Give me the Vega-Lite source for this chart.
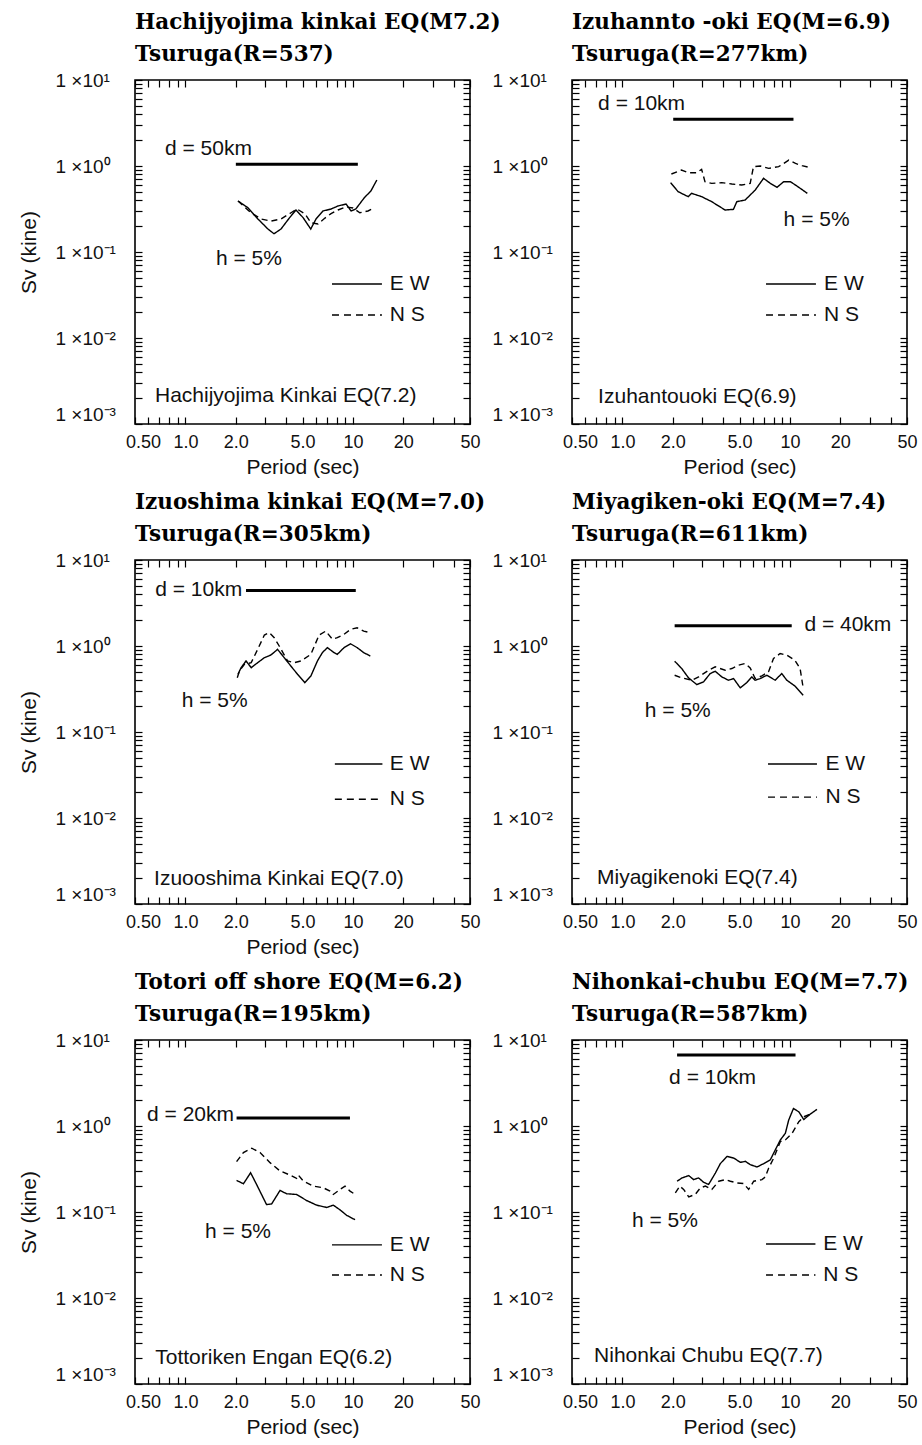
{
"$schema":"https://vega.github.io/schema/vega-lite/v6.json",
"padding":{"left":17,"top":10,"right":5,"bottom":5},
"background":"white",
"columns":2,
"bounds":"flush",
"spacing":{"row":136,"column":102},
"data":{"values":[
{"panel":1,"comp":"E W","period":2.06,"sv":0.392},{"panel":1,"comp":"E W","period":2.36,"sv":0.327},{"panel":1,"comp":"E W","period":2.71,"sv":0.242},{"panel":1,"comp":"E W","period":3.11,"sv":0.185},{"panel":1,"comp":"E W","period":3.38,"sv":0.163},{"panel":1,"comp":"E W","period":3.72,"sv":0.185},{"panel":1,"comp":"E W","period":4.19,"sv":0.251},{"panel":1,"comp":"E W","period":4.57,"sv":0.308},{"panel":1,"comp":"E W","period":5.04,"sv":0.251},{"panel":1,"comp":"E W","period":5.6,"sv":0.185},{"panel":1,"comp":"E W","period":6.02,"sv":0.242},{"panel":1,"comp":"E W","period":6.63,"sv":0.3},{"panel":1,"comp":"E W","period":7.4,"sv":0.316},{"panel":1,"comp":"E W","period":8.15,"sv":0.343},{"panel":1,"comp":"E W","period":9.1,"sv":0.361},{"panel":1,"comp":"E W","period":9.75,"sv":0.3},{"panel":1,"comp":"E W","period":10.4,"sv":0.316},{"panel":1,"comp":"E W","period":11.7,"sv":0.428},{"panel":1,"comp":"E W","period":12.8,"sv":0.512},{"panel":1,"comp":"E W","period":13.9,"sv":0.688},
{"panel":1,"comp":"N S","period":2.06,"sv":0.392},{"panel":1,"comp":"N S","period":2.46,"sv":0.286},{"panel":1,"comp":"N S","period":2.83,"sv":0.242},{"panel":1,"comp":"N S","period":3.24,"sv":0.229},{"panel":1,"comp":"N S","period":3.72,"sv":0.242},{"panel":1,"comp":"N S","period":4.27,"sv":0.286},{"panel":1,"comp":"N S","period":4.64,"sv":0.316},{"panel":1,"comp":"N S","period":5.18,"sv":0.277},{"panel":1,"comp":"N S","period":5.62,"sv":0.219},{"panel":1,"comp":"N S","period":6.19,"sv":0.212},{"panel":1,"comp":"N S","period":6.81,"sv":0.248},{"panel":1,"comp":"N S","period":7.4,"sv":0.279},{"panel":1,"comp":"N S","period":8.15,"sv":0.308},{"panel":1,"comp":"N S","period":9.1,"sv":0.334},{"panel":1,"comp":"N S","period":10.0,"sv":0.325},{"panel":1,"comp":"N S","period":11.0,"sv":0.286},{"panel":1,"comp":"N S","period":12.3,"sv":0.3},{"panel":1,"comp":"N S","period":13.5,"sv":0.327},
{"panel":1,"comp":"d","period":2.0,"sv":1.05},{"panel":1,"comp":"d","period":10.7,"sv":1.05},
{"panel":2,"comp":"E W","period":1.94,"sv":0.64},{"panel":2,"comp":"E W","period":2.15,"sv":0.503},{"panel":2,"comp":"E W","period":2.47,"sv":0.44},{"panel":2,"comp":"E W","period":2.59,"sv":0.481},{"panel":2,"comp":"E W","period":2.97,"sv":0.44},{"panel":2,"comp":"E W","period":3.41,"sv":0.385},{"panel":2,"comp":"E W","period":4.1,"sv":0.308},{"panel":2,"comp":"E W","period":4.6,"sv":0.313},{"panel":2,"comp":"E W","period":4.82,"sv":0.385},{"panel":2,"comp":"E W","period":5.4,"sv":0.402},{"panel":2,"comp":"E W","period":6.21,"sv":0.526},{"panel":2,"comp":"E W","period":6.96,"sv":0.719},{"panel":2,"comp":"E W","period":7.64,"sv":0.628},{"panel":2,"comp":"E W","period":8.37,"sv":0.565},{"panel":2,"comp":"E W","period":9.18,"sv":0.657},{"panel":2,"comp":"E W","period":10.07,"sv":0.657},{"panel":2,"comp":"E W","period":11.3,"sv":0.565},{"panel":2,"comp":"E W","period":12.7,"sv":0.481},
{"panel":2,"comp":"N S","period":1.96,"sv":0.807},{"panel":2,"comp":"N S","period":2.25,"sv":0.898},{"panel":2,"comp":"N S","period":2.47,"sv":0.836},{"panel":2,"comp":"N S","period":2.77,"sv":0.836},{"panel":2,"comp":"N S","period":2.97,"sv":0.915},{"panel":2,"comp":"N S","period":3.11,"sv":0.657},{"panel":2,"comp":"N S","period":3.41,"sv":0.628},{"panel":2,"comp":"N S","period":3.92,"sv":0.64},{"panel":2,"comp":"N S","period":4.5,"sv":0.618},{"panel":2,"comp":"N S","period":5.16,"sv":0.601},{"panel":2,"comp":"N S","period":5.79,"sv":0.628},{"panel":2,"comp":"N S","period":6.06,"sv":0.982},{"panel":2,"comp":"N S","period":6.65,"sv":1.0},{"panel":2,"comp":"N S","period":7.46,"sv":0.939},{"panel":2,"comp":"N S","period":8.57,"sv":0.982},{"panel":2,"comp":"N S","period":9.84,"sv":1.17},{"panel":2,"comp":"N S","period":10.8,"sv":1.07},{"panel":2,"comp":"N S","period":11.8,"sv":1.01},{"panel":2,"comp":"N S","period":13.0,"sv":0.964},
{"panel":2,"comp":"d","period":2.01,"sv":3.5},{"panel":2,"comp":"d","period":10.5,"sv":3.5},
{"panel":3,"comp":"E W","period":2.06,"sv":0.469},{"panel":3,"comp":"E W","period":2.15,"sv":0.56},{"panel":3,"comp":"E W","period":2.3,"sv":0.67},{"panel":3,"comp":"E W","period":2.47,"sv":0.56},{"panel":3,"comp":"E W","period":2.7,"sv":0.64},{"panel":3,"comp":"E W","period":2.96,"sv":0.731},{"panel":3,"comp":"E W","period":3.24,"sv":0.786},{"panel":3,"comp":"E W","period":3.55,"sv":0.914},{"panel":3,"comp":"E W","period":3.89,"sv":0.731},{"panel":3,"comp":"E W","period":4.26,"sv":0.585},{"panel":3,"comp":"E W","period":4.67,"sv":0.469},{"panel":3,"comp":"E W","period":5.16,"sv":0.375},{"panel":3,"comp":"E W","period":5.61,"sv":0.448},{"panel":3,"comp":"E W","period":6.14,"sv":0.67},{"panel":3,"comp":"E W","period":6.57,"sv":0.837},{"panel":3,"comp":"E W","period":7.04,"sv":0.957},{"panel":3,"comp":"E W","period":7.71,"sv":0.837},{"panel":3,"comp":"E W","period":8.07,"sv":0.8},{"panel":3,"comp":"E W","period":8.85,"sv":0.957},{"panel":3,"comp":"E W","period":9.69,"sv":1.06},{"panel":3,"comp":"E W","period":10.6,"sv":0.957},{"panel":3,"comp":"E W","period":11.6,"sv":0.837},{"panel":3,"comp":"E W","period":12.7,"sv":0.765},
{"panel":3,"comp":"N S","period":2.04,"sv":0.428},{"panel":3,"comp":"N S","period":2.1,"sv":0.512},{"panel":3,"comp":"N S","period":2.25,"sv":0.612},{"panel":3,"comp":"N S","period":2.47,"sv":0.64},{"panel":3,"comp":"N S","period":2.7,"sv":0.914},{"panel":3,"comp":"N S","period":2.96,"sv":1.34},{"panel":3,"comp":"N S","period":3.17,"sv":1.43},{"panel":3,"comp":"N S","period":3.39,"sv":1.25},{"panel":3,"comp":"N S","period":3.63,"sv":1.0},{"panel":3,"comp":"N S","period":4.07,"sv":0.67},{"panel":3,"comp":"N S","period":4.46,"sv":0.64},{"panel":3,"comp":"N S","period":4.89,"sv":0.67},{"panel":3,"comp":"N S","period":5.61,"sv":0.8},{"panel":3,"comp":"N S","period":6.28,"sv":1.34},{"panel":3,"comp":"N S","period":6.88,"sv":1.49},{"panel":3,"comp":"N S","period":7.54,"sv":1.2},{"panel":3,"comp":"N S","period":8.07,"sv":1.25},{"panel":3,"comp":"N S","period":8.85,"sv":1.37},{"panel":3,"comp":"N S","period":9.69,"sv":1.56},{"panel":3,"comp":"N S","period":10.6,"sv":1.63},{"panel":3,"comp":"N S","period":11.6,"sv":1.49},{"panel":3,"comp":"N S","period":12.7,"sv":1.43},
{"panel":3,"comp":"d","period":2.3,"sv":4.43},{"panel":3,"comp":"d","period":10.4,"sv":4.43},
{"panel":4,"comp":"E W","period":2.05,"sv":0.666},{"panel":4,"comp":"E W","period":2.26,"sv":0.547},{"panel":4,"comp":"E W","period":2.48,"sv":0.426},{"panel":4,"comp":"E W","period":2.78,"sv":0.356},{"panel":4,"comp":"E W","period":3.05,"sv":0.383},{"panel":4,"comp":"E W","period":3.34,"sv":0.478},{"panel":4,"comp":"E W","period":3.58,"sv":0.509},{"panel":4,"comp":"E W","period":3.92,"sv":0.437},{"panel":4,"comp":"E W","period":4.3,"sv":0.4},{"panel":4,"comp":"E W","period":4.61,"sv":0.418},{"panel":4,"comp":"E W","period":5.05,"sv":0.326},{"panel":4,"comp":"E W","period":5.53,"sv":0.376},{"panel":4,"comp":"E W","period":5.92,"sv":0.437},{"panel":4,"comp":"E W","period":6.2,"sv":0.4},{"panel":4,"comp":"E W","period":6.64,"sv":0.418},{"panel":4,"comp":"E W","period":7.28,"sv":0.457},{"panel":4,"comp":"E W","period":8.16,"sv":0.4},{"panel":4,"comp":"E W","period":8.94,"sv":0.478},{"panel":4,"comp":"E W","period":9.58,"sv":0.4},{"panel":4,"comp":"E W","period":10.7,"sv":0.343},{"panel":4,"comp":"E W","period":12.0,"sv":0.267},
{"panel":4,"comp":"N S","period":2.05,"sv":0.457},{"panel":4,"comp":"N S","period":2.26,"sv":0.426},{"panel":4,"comp":"N S","period":2.6,"sv":0.4},{"panel":4,"comp":"N S","period":2.85,"sv":0.437},{"panel":4,"comp":"N S","period":3.27,"sv":0.523},{"panel":4,"comp":"N S","period":3.58,"sv":0.572},{"panel":4,"comp":"N S","period":4.11,"sv":0.523},{"panel":4,"comp":"N S","period":4.5,"sv":0.547},{"panel":4,"comp":"N S","period":4.93,"sv":0.598},{"panel":4,"comp":"N S","period":5.4,"sv":0.625},{"panel":4,"comp":"N S","period":5.79,"sv":0.557},{"panel":4,"comp":"N S","period":6.2,"sv":0.418},{"panel":4,"comp":"N S","period":6.8,"sv":0.449},{"panel":4,"comp":"N S","period":7.45,"sv":0.5},{"panel":4,"comp":"N S","period":7.98,"sv":0.715},{"panel":4,"comp":"N S","period":8.74,"sv":0.818},{"panel":4,"comp":"N S","period":9.58,"sv":0.782},{"panel":4,"comp":"N S","period":10.7,"sv":0.684},{"panel":4,"comp":"N S","period":11.5,"sv":0.547},{"panel":4,"comp":"N S","period":12.0,"sv":0.326},
{"panel":4,"comp":"d","period":2.05,"sv":1.72},{"panel":4,"comp":"d","period":10.25,"sv":1.72},
{"panel":5,"comp":"E W","period":2.02,"sv":0.233},{"panel":5,"comp":"E W","period":2.22,"sv":0.213},{"panel":5,"comp":"E W","period":2.45,"sv":0.286},{"panel":5,"comp":"E W","period":2.66,"sv":0.209},{"panel":5,"comp":"E W","period":3.05,"sv":0.122},{"panel":5,"comp":"E W","period":3.27,"sv":0.124},{"panel":5,"comp":"E W","period":3.67,"sv":0.178},{"panel":5,"comp":"E W","period":4.02,"sv":0.163},{"panel":5,"comp":"E W","period":4.61,"sv":0.16},{"panel":5,"comp":"E W","period":5.29,"sv":0.136},{"panel":5,"comp":"E W","period":6.08,"sv":0.12},{"panel":5,"comp":"E W","period":6.97,"sv":0.113},{"panel":5,"comp":"E W","period":7.64,"sv":0.12},{"panel":5,"comp":"E W","period":8.37,"sv":0.106},{"panel":5,"comp":"E W","period":9.18,"sv":0.0914},{"panel":5,"comp":"E W","period":10.3,"sv":0.0813},
{"panel":5,"comp":"N S","period":2.02,"sv":0.385},{"panel":5,"comp":"N S","period":2.22,"sv":0.491},{"panel":5,"comp":"N S","period":2.49,"sv":0.552},{"panel":5,"comp":"N S","period":2.79,"sv":0.491},{"panel":5,"comp":"N S","period":3.2,"sv":0.375},{"panel":5,"comp":"N S","period":3.67,"sv":0.3},{"panel":5,"comp":"N S","period":4.21,"sv":0.269},{"panel":5,"comp":"N S","period":4.61,"sv":0.246},{"panel":5,"comp":"N S","period":4.72,"sv":0.269},{"panel":5,"comp":"N S","period":5.06,"sv":0.229},{"panel":5,"comp":"N S","period":5.8,"sv":0.2},{"panel":5,"comp":"N S","period":6.66,"sv":0.191},{"panel":5,"comp":"N S","period":7.3,"sv":0.175},{"panel":5,"comp":"N S","period":7.64,"sv":0.16},{"panel":5,"comp":"N S","period":8.37,"sv":0.183},{"panel":5,"comp":"N S","period":8.97,"sv":0.2},{"panel":5,"comp":"N S","period":9.61,"sv":0.175},{"panel":5,"comp":"N S","period":10.3,"sv":0.16},
{"panel":5,"comp":"d","period":2.02,"sv":1.24},{"panel":5,"comp":"d","period":9.6,"sv":1.24},
{"panel":6,"comp":"E W","period":2.12,"sv":0.228},{"panel":6,"comp":"E W","period":2.27,"sv":0.249},{"panel":6,"comp":"E W","period":2.49,"sv":0.265},{"panel":6,"comp":"E W","period":2.66,"sv":0.238},{"panel":6,"comp":"E W","period":2.85,"sv":0.249},{"panel":6,"comp":"E W","period":3.05,"sv":0.222},{"panel":6,"comp":"E W","period":3.27,"sv":0.209},{"panel":6,"comp":"E W","period":3.59,"sv":0.284},{"panel":6,"comp":"E W","period":3.84,"sv":0.365},{"panel":6,"comp":"E W","period":4.21,"sv":0.443},{"panel":6,"comp":"E W","period":4.62,"sv":0.424},{"panel":6,"comp":"E W","period":5.06,"sv":0.378},{"panel":6,"comp":"E W","period":5.42,"sv":0.388},{"panel":6,"comp":"E W","period":5.8,"sv":0.355},{"panel":6,"comp":"E W","period":6.36,"sv":0.334},{"panel":6,"comp":"E W","period":6.97,"sv":0.365},{"panel":6,"comp":"E W","period":7.64,"sv":0.405},{"panel":6,"comp":"E W","period":8.18,"sv":0.528},{"panel":6,"comp":"E W","period":8.77,"sv":0.689},{"panel":6,"comp":"E W","period":9.39,"sv":0.822},{"panel":6,"comp":"E W","period":9.83,"sv":1.17},{"panel":6,"comp":"E W","period":10.5,"sv":1.6},{"panel":6,"comp":"E W","period":11.3,"sv":1.46},{"panel":6,"comp":"E W","period":12.1,"sv":1.19},{"panel":6,"comp":"E W","period":13.2,"sv":1.37},{"panel":6,"comp":"E W","period":14.5,"sv":1.56},
{"panel":6,"comp":"N S","period":2.07,"sv":0.167},{"panel":6,"comp":"N S","period":2.2,"sv":0.2},{"panel":6,"comp":"N S","period":2.32,"sv":0.183},{"panel":6,"comp":"N S","period":2.49,"sv":0.15},{"panel":6,"comp":"N S","period":2.72,"sv":0.16},{"panel":6,"comp":"N S","period":2.92,"sv":0.191},{"panel":6,"comp":"N S","period":3.13,"sv":0.2},{"panel":6,"comp":"N S","period":3.42,"sv":0.183},{"panel":6,"comp":"N S","period":3.76,"sv":0.228},{"panel":6,"comp":"N S","period":4.12,"sv":0.238},{"panel":6,"comp":"N S","period":4.41,"sv":0.228},{"panel":6,"comp":"N S","period":4.83,"sv":0.218},{"panel":6,"comp":"N S","period":5.29,"sv":0.214},{"panel":6,"comp":"N S","period":5.67,"sv":0.183},{"panel":6,"comp":"N S","period":6.08,"sv":0.228},{"panel":6,"comp":"N S","period":6.81,"sv":0.238},{"panel":6,"comp":"N S","period":7.13,"sv":0.256},{"panel":6,"comp":"N S","period":7.47,"sv":0.325},{"panel":6,"comp":"N S","period":8.0,"sv":0.424},{"panel":6,"comp":"N S","period":8.77,"sv":0.659},{"panel":6,"comp":"N S","period":9.39,"sv":0.689},{"panel":6,"comp":"N S","period":10.3,"sv":0.822},{"panel":6,"comp":"N S","period":11.3,"sv":1.12},{"panel":6,"comp":"N S","period":12.1,"sv":1.28},{"panel":6,"comp":"N S","period":13.2,"sv":1.37},
{"panel":6,"comp":"d","period":2.12,"sv":6.7},{"panel":6,"comp":"d","period":10.8,"sv":6.7}
]},
"concat":[
{"width":335,"height":344,"title":{"text":["Hachijyojima kinkai EQ(M7.2)","Tsuruga(R=537)"]},
 "resolve":{"axis":{"x":"independent","y":"independent"}},
 "layer":[
 {"transform":[{"filter":"datum.panel==1 && datum.comp!='d'"}],"mark":{"type":"line","strokeWidth":1.4},
  "encoding":{"x":{"field":"period","type":"quantitative","scale":{"type":"log","domain":[0.5,50],"nice":false},"axis":{"orient":"bottom","values":[0.5,0.6,0.7,0.8,0.9,1,2,3,4,5,6,7,8,9,10,20,30,40,50],"labelExpr":"datum.value==0.5?'0.50':datum.value==1?'1.0':datum.value==2?'2.0':datum.value==5?'5.0':datum.value==10?'10':datum.value==20?'20':datum.value==50?'50':''","labelOffset":{"condition":{"test":"datum.value==0.5","value":8},"value":0},"tickSize":-7,"labelPadding":16,"title":"Period (sec)","titlePadding":5}},
  "y":{"field":"sv","type":"quantitative","scale":{"type":"log","domain":[0.001,10],"nice":false},"axis":{"orient":"left","values":[0.001,0.002,0.003,0.004,0.005,0.006,0.007,0.008,0.009,0.01,0.02,0.03,0.04,0.05,0.06,0.07,0.08,0.09,0.1,0.2,0.3,0.4,0.5,0.6,0.7,0.8,0.9,1,2,3,4,5,6,7,8,9,10],"labelExpr":"datum.value==10?'1 ×10¹':datum.value==1?'1 ×10⁰':datum.value==0.1?'1 ×10⁻¹':datum.value==0.01?'1 ×10⁻²':datum.value==0.001?'1 ×10⁻³':''","labelOffset":{"condition":{"test":"datum.value==0.001","value":-10},"value":0},"tickSize":-7,"labelAlign":"left","labelPadding":87,"title":"Sv (kine)","titlePadding":16}},
  "strokeDash":{"field":"comp","type":"nominal","scale":{"domain":["E W","N S"],"range":[[1,0],[6,4]]},"legend":null}}},
 {"transform":[{"filter":"datum.panel==1 && datum.comp=='d'"}],"mark":{"type":"line","strokeWidth":3},
  "encoding":{"x":{"field":"period","type":"quantitative","axis":{"orient":"top","values":[0.5,0.6,0.7,0.8,0.9,1,2,3,4,5,6,7,8,9,10,20,30,40,50],"labels":false,"tickSize":-7,"title":null}},
  "y":{"field":"sv","type":"quantitative","axis":{"orient":"right","values":[0.001,0.002,0.003,0.004,0.005,0.006,0.007,0.008,0.009,0.01,0.02,0.03,0.04,0.05,0.06,0.07,0.08,0.09,0.1,0.2,0.3,0.4,0.5,0.6,0.7,0.8,0.9,1,2,3,4,5,6,7,8,9,10],"labels":false,"tickSize":-7,"title":null}}}},
 {"data":{"values":[{}]},"mark":{"type":"rule","strokeWidth":1.4,"color":"#000"},"encoding":{"x":{"datum":7.5,"type":"quantitative","axis":null},"x2":{"datum":14.9},"y":{"datum":0.0425,"type":"quantitative","axis":null}}},
 {"data":{"values":[{}]},"mark":{"type":"rule","strokeWidth":1.4,"color":"#000","strokeDash":[7,5]},"encoding":{"x":{"datum":7.5,"type":"quantitative","axis":null},"x2":{"datum":14.9},"y":{"datum":0.0185,"type":"quantitative","axis":null}}},
 {"data":{"values":[{}]},"mark":{"type":"text","align":"left","baseline":"middle"},"encoding":{"x":{"datum":16.6,"type":"quantitative","axis":null},"y":{"datum":0.0425,"type":"quantitative","axis":null},"text":{"value":"E W"}}},
 {"data":{"values":[{}]},"mark":{"type":"text","align":"left","baseline":"middle"},"encoding":{"x":{"datum":16.6,"type":"quantitative","axis":null},"y":{"datum":0.0185,"type":"quantitative","axis":null},"text":{"value":"N S"}}},
 {"data":{"values":[{}]},"mark":{"type":"text","align":"left","baseline":"middle"},"encoding":{"x":{"datum":0.755,"type":"quantitative","axis":null},"y":{"datum":1.58,"type":"quantitative","axis":null},"text":{"value":"d = 50km"}}},
 {"data":{"values":[{}]},"mark":{"type":"text","align":"left","baseline":"middle"},"encoding":{"x":{"datum":1.52,"type":"quantitative","axis":null},"y":{"datum":0.083,"type":"quantitative","axis":null},"text":{"value":"h = 5%"}}},
 {"data":{"values":[{}]},"mark":{"type":"text","align":"left","baseline":"middle"},"encoding":{"x":{"datum":0.658,"type":"quantitative","axis":null},"y":{"datum":0.00212,"type":"quantitative","axis":null},"text":{"value":"Hachijyojima  Kinkai  EQ(7.2)"}}}
 ]},
{"width":335,"height":344,"title":{"text":["Izuhannto -oki EQ(M=6.9)","Tsuruga(R=277km)"]},
 "resolve":{"axis":{"x":"independent","y":"independent"}},
 "layer":[
 {"transform":[{"filter":"datum.panel==2 && datum.comp!='d'"}],"mark":{"type":"line","strokeWidth":1.4},
  "encoding":{"x":{"field":"period","type":"quantitative","scale":{"type":"log","domain":[0.5,50],"nice":false},"axis":{"orient":"bottom","values":[0.5,0.6,0.7,0.8,0.9,1,2,3,4,5,6,7,8,9,10,20,30,40,50],"labelExpr":"datum.value==0.5?'0.50':datum.value==1?'1.0':datum.value==2?'2.0':datum.value==5?'5.0':datum.value==10?'10':datum.value==20?'20':datum.value==50?'50':''","labelOffset":{"condition":{"test":"datum.value==0.5","value":8},"value":0},"tickSize":-7,"labelPadding":16,"title":"Period (sec)","titlePadding":5}},
  "y":{"field":"sv","type":"quantitative","scale":{"type":"log","domain":[0.001,10],"nice":false},"axis":{"orient":"left","values":[0.001,0.002,0.003,0.004,0.005,0.006,0.007,0.008,0.009,0.01,0.02,0.03,0.04,0.05,0.06,0.07,0.08,0.09,0.1,0.2,0.3,0.4,0.5,0.6,0.7,0.8,0.9,1,2,3,4,5,6,7,8,9,10],"labelExpr":"datum.value==10?'1 ×10¹':datum.value==1?'1 ×10⁰':datum.value==0.1?'1 ×10⁻¹':datum.value==0.01?'1 ×10⁻²':datum.value==0.001?'1 ×10⁻³':''","labelOffset":{"condition":{"test":"datum.value==0.001","value":-10},"value":0},"tickSize":-7,"labelAlign":"left","labelPadding":87,"title":null}},
  "strokeDash":{"field":"comp","type":"nominal","scale":{"domain":["E W","N S"],"range":[[1,0],[6,4]]},"legend":null}}},
 {"transform":[{"filter":"datum.panel==2 && datum.comp=='d'"}],"mark":{"type":"line","strokeWidth":3},
  "encoding":{"x":{"field":"period","type":"quantitative","axis":{"orient":"top","values":[0.5,0.6,0.7,0.8,0.9,1,2,3,4,5,6,7,8,9,10,20,30,40,50],"labels":false,"tickSize":-7,"title":null}},
  "y":{"field":"sv","type":"quantitative","axis":{"orient":"right","values":[0.001,0.002,0.003,0.004,0.005,0.006,0.007,0.008,0.009,0.01,0.02,0.03,0.04,0.05,0.06,0.07,0.08,0.09,0.1,0.2,0.3,0.4,0.5,0.6,0.7,0.8,0.9,1,2,3,4,5,6,7,8,9,10],"labels":false,"tickSize":-7,"title":null}}}},
 {"data":{"values":[{}]},"mark":{"type":"rule","strokeWidth":1.4,"color":"#000"},"encoding":{"x":{"datum":7.2,"type":"quantitative","axis":null},"x2":{"datum":14.3},"y":{"datum":0.0425,"type":"quantitative","axis":null}}},
 {"data":{"values":[{}]},"mark":{"type":"rule","strokeWidth":1.4,"color":"#000","strokeDash":[7,5]},"encoding":{"x":{"datum":7.2,"type":"quantitative","axis":null},"x2":{"datum":14.3},"y":{"datum":0.0185,"type":"quantitative","axis":null}}},
 {"data":{"values":[{}]},"mark":{"type":"text","align":"left","baseline":"middle"},"encoding":{"x":{"datum":16.0,"type":"quantitative","axis":null},"y":{"datum":0.0425,"type":"quantitative","axis":null},"text":{"value":"E W"}}},
 {"data":{"values":[{}]},"mark":{"type":"text","align":"left","baseline":"middle"},"encoding":{"x":{"datum":16.0,"type":"quantitative","axis":null},"y":{"datum":0.0185,"type":"quantitative","axis":null},"text":{"value":"N S"}}},
 {"data":{"values":[{}]},"mark":{"type":"text","align":"left","baseline":"middle"},"encoding":{"x":{"datum":0.716,"type":"quantitative","axis":null},"y":{"datum":5.26,"type":"quantitative","axis":null},"text":{"value":"d = 10km"}}},
 {"data":{"values":[{}]},"mark":{"type":"text","align":"left","baseline":"middle"},"encoding":{"x":{"datum":9.17,"type":"quantitative","axis":null},"y":{"datum":0.236,"type":"quantitative","axis":null},"text":{"value":"h = 5%"}}},
 {"data":{"values":[{}]},"mark":{"type":"text","align":"left","baseline":"middle"},"encoding":{"x":{"datum":0.716,"type":"quantitative","axis":null},"y":{"datum":0.00206,"type":"quantitative","axis":null},"text":{"value":"Izuhantouoki  EQ(6.9)"}}}
 ]},
{"width":335,"height":344,"title":{"text":["Izuoshima kinkai EQ(M=7.0)","Tsuruga(R=305km)"]},
 "resolve":{"axis":{"x":"independent","y":"independent"}},
 "layer":[
 {"transform":[{"filter":"datum.panel==3 && datum.comp!='d'"}],"mark":{"type":"line","strokeWidth":1.4},
  "encoding":{"x":{"field":"period","type":"quantitative","scale":{"type":"log","domain":[0.5,50],"nice":false},"axis":{"orient":"bottom","values":[0.5,0.6,0.7,0.8,0.9,1,2,3,4,5,6,7,8,9,10,20,30,40,50],"labelExpr":"datum.value==0.5?'0.50':datum.value==1?'1.0':datum.value==2?'2.0':datum.value==5?'5.0':datum.value==10?'10':datum.value==20?'20':datum.value==50?'50':''","labelOffset":{"condition":{"test":"datum.value==0.5","value":8},"value":0},"tickSize":-7,"labelPadding":16,"title":"Period (sec)","titlePadding":5}},
  "y":{"field":"sv","type":"quantitative","scale":{"type":"log","domain":[0.001,10],"nice":false},"axis":{"orient":"left","values":[0.001,0.002,0.003,0.004,0.005,0.006,0.007,0.008,0.009,0.01,0.02,0.03,0.04,0.05,0.06,0.07,0.08,0.09,0.1,0.2,0.3,0.4,0.5,0.6,0.7,0.8,0.9,1,2,3,4,5,6,7,8,9,10],"labelExpr":"datum.value==10?'1 ×10¹':datum.value==1?'1 ×10⁰':datum.value==0.1?'1 ×10⁻¹':datum.value==0.01?'1 ×10⁻²':datum.value==0.001?'1 ×10⁻³':''","labelOffset":{"condition":{"test":"datum.value==0.001","value":-10},"value":0},"tickSize":-7,"labelAlign":"left","labelPadding":87,"title":"Sv (kine)","titlePadding":16}},
  "strokeDash":{"field":"comp","type":"nominal","scale":{"domain":["E W","N S"],"range":[[1,0],[6,4]]},"legend":null}}},
 {"transform":[{"filter":"datum.panel==3 && datum.comp=='d'"}],"mark":{"type":"line","strokeWidth":3},
  "encoding":{"x":{"field":"period","type":"quantitative","axis":{"orient":"top","values":[0.5,0.6,0.7,0.8,0.9,1,2,3,4,5,6,7,8,9,10,20,30,40,50],"labels":false,"tickSize":-7,"title":null}},
  "y":{"field":"sv","type":"quantitative","axis":{"orient":"right","values":[0.001,0.002,0.003,0.004,0.005,0.006,0.007,0.008,0.009,0.01,0.02,0.03,0.04,0.05,0.06,0.07,0.08,0.09,0.1,0.2,0.3,0.4,0.5,0.6,0.7,0.8,0.9,1,2,3,4,5,6,7,8,9,10],"labels":false,"tickSize":-7,"title":null}}}},
 {"data":{"values":[{}]},"mark":{"type":"rule","strokeWidth":1.4,"color":"#000"},"encoding":{"x":{"datum":7.8,"type":"quantitative","axis":null},"x2":{"datum":15.0},"y":{"datum":0.0425,"type":"quantitative","axis":null}}},
 {"data":{"values":[{}]},"mark":{"type":"rule","strokeWidth":1.4,"color":"#000","strokeDash":[7,5]},"encoding":{"x":{"datum":7.8,"type":"quantitative","axis":null},"x2":{"datum":15.0},"y":{"datum":0.0165,"type":"quantitative","axis":null}}},
 {"data":{"values":[{}]},"mark":{"type":"text","align":"left","baseline":"middle"},"encoding":{"x":{"datum":16.6,"type":"quantitative","axis":null},"y":{"datum":0.0425,"type":"quantitative","axis":null},"text":{"value":"E W"}}},
 {"data":{"values":[{}]},"mark":{"type":"text","align":"left","baseline":"middle"},"encoding":{"x":{"datum":16.6,"type":"quantitative","axis":null},"y":{"datum":0.0165,"type":"quantitative","axis":null},"text":{"value":"N S"}}},
 {"data":{"values":[{}]},"mark":{"type":"text","align":"left","baseline":"middle"},"encoding":{"x":{"datum":0.66,"type":"quantitative","axis":null},"y":{"datum":4.48,"type":"quantitative","axis":null},"text":{"value":"d = 10km"}}},
 {"data":{"values":[{}]},"mark":{"type":"text","align":"left","baseline":"middle"},"encoding":{"x":{"datum":0.95,"type":"quantitative","axis":null},"y":{"datum":0.229,"type":"quantitative","axis":null},"text":{"value":"h = 5%"}}},
 {"data":{"values":[{}]},"mark":{"type":"text","align":"left","baseline":"middle"},"encoding":{"x":{"datum":0.65,"type":"quantitative","axis":null},"y":{"datum":0.00195,"type":"quantitative","axis":null},"text":{"value":"Izuooshima  Kinkai  EQ(7.0)"}}}
 ]},
{"width":335,"height":344,"title":{"text":["Miyagiken-oki EQ(M=7.4)","Tsuruga(R=611km)"]},
 "resolve":{"axis":{"x":"independent","y":"independent"}},
 "layer":[
 {"transform":[{"filter":"datum.panel==4 && datum.comp!='d'"}],"mark":{"type":"line","strokeWidth":1.4},
  "encoding":{"x":{"field":"period","type":"quantitative","scale":{"type":"log","domain":[0.5,50],"nice":false},"axis":{"orient":"bottom","values":[0.5,0.6,0.7,0.8,0.9,1,2,3,4,5,6,7,8,9,10,20,30,40,50],"labelExpr":"datum.value==0.5?'0.50':datum.value==1?'1.0':datum.value==2?'2.0':datum.value==5?'5.0':datum.value==10?'10':datum.value==20?'20':datum.value==50?'50':''","labelOffset":{"condition":{"test":"datum.value==0.5","value":8},"value":0},"tickSize":-7,"labelPadding":16,"title":null}},
  "y":{"field":"sv","type":"quantitative","scale":{"type":"log","domain":[0.001,10],"nice":false},"axis":{"orient":"left","values":[0.001,0.002,0.003,0.004,0.005,0.006,0.007,0.008,0.009,0.01,0.02,0.03,0.04,0.05,0.06,0.07,0.08,0.09,0.1,0.2,0.3,0.4,0.5,0.6,0.7,0.8,0.9,1,2,3,4,5,6,7,8,9,10],"labelExpr":"datum.value==10?'1 ×10¹':datum.value==1?'1 ×10⁰':datum.value==0.1?'1 ×10⁻¹':datum.value==0.01?'1 ×10⁻²':datum.value==0.001?'1 ×10⁻³':''","labelOffset":{"condition":{"test":"datum.value==0.001","value":-10},"value":0},"tickSize":-7,"labelAlign":"left","labelPadding":87,"title":null}},
  "strokeDash":{"field":"comp","type":"nominal","scale":{"domain":["E W","N S"],"range":[[1,0],[6,4]]},"legend":null}}},
 {"transform":[{"filter":"datum.panel==4 && datum.comp=='d'"}],"mark":{"type":"line","strokeWidth":3},
  "encoding":{"x":{"field":"period","type":"quantitative","axis":{"orient":"top","values":[0.5,0.6,0.7,0.8,0.9,1,2,3,4,5,6,7,8,9,10,20,30,40,50],"labels":false,"tickSize":-7,"title":null}},
  "y":{"field":"sv","type":"quantitative","axis":{"orient":"right","values":[0.001,0.002,0.003,0.004,0.005,0.006,0.007,0.008,0.009,0.01,0.02,0.03,0.04,0.05,0.06,0.07,0.08,0.09,0.1,0.2,0.3,0.4,0.5,0.6,0.7,0.8,0.9,1,2,3,4,5,6,7,8,9,10],"labels":false,"tickSize":-7,"title":null}}}},
 {"data":{"values":[{}]},"mark":{"type":"rule","strokeWidth":1.4,"color":"#000"},"encoding":{"x":{"datum":7.4,"type":"quantitative","axis":null},"x2":{"datum":14.5},"y":{"datum":0.0425,"type":"quantitative","axis":null}}},
 {"data":{"values":[{}]},"mark":{"type":"rule","strokeWidth":1.4,"color":"#000","strokeDash":[7,5]},"encoding":{"x":{"datum":7.4,"type":"quantitative","axis":null},"x2":{"datum":14.5},"y":{"datum":0.0175,"type":"quantitative","axis":null}}},
 {"data":{"values":[{}]},"mark":{"type":"text","align":"left","baseline":"middle"},"encoding":{"x":{"datum":16.3,"type":"quantitative","axis":null},"y":{"datum":0.0425,"type":"quantitative","axis":null},"text":{"value":"E W"}}},
 {"data":{"values":[{}]},"mark":{"type":"text","align":"left","baseline":"middle"},"encoding":{"x":{"datum":16.3,"type":"quantitative","axis":null},"y":{"datum":0.0175,"type":"quantitative","axis":null},"text":{"value":"N S"}}},
 {"data":{"values":[{}]},"mark":{"type":"text","align":"left","baseline":"middle"},"encoding":{"x":{"datum":12.2,"type":"quantitative","axis":null},"y":{"datum":1.75,"type":"quantitative","axis":null},"text":{"value":"d = 40km"}}},
 {"data":{"values":[{}]},"mark":{"type":"text","align":"left","baseline":"middle"},"encoding":{"x":{"datum":1.36,"type":"quantitative","axis":null},"y":{"datum":0.175,"type":"quantitative","axis":null},"text":{"value":"h = 5%"}}},
 {"data":{"values":[{}]},"mark":{"type":"text","align":"left","baseline":"middle"},"encoding":{"x":{"datum":0.705,"type":"quantitative","axis":null},"y":{"datum":0.002,"type":"quantitative","axis":null},"text":{"value":"Miyagikenoki  EQ(7.4)"}}}
 ]},
{"width":335,"height":344,"title":{"text":["Totori off shore EQ(M=6.2)","Tsuruga(R=195km)"]},
 "resolve":{"axis":{"x":"independent","y":"independent"}},
 "layer":[
 {"transform":[{"filter":"datum.panel==5 && datum.comp!='d'"}],"mark":{"type":"line","strokeWidth":1.4},
  "encoding":{"x":{"field":"period","type":"quantitative","scale":{"type":"log","domain":[0.5,50],"nice":false},"axis":{"orient":"bottom","values":[0.5,0.6,0.7,0.8,0.9,1,2,3,4,5,6,7,8,9,10,20,30,40,50],"labelExpr":"datum.value==0.5?'0.50':datum.value==1?'1.0':datum.value==2?'2.0':datum.value==5?'5.0':datum.value==10?'10':datum.value==20?'20':datum.value==50?'50':''","labelOffset":{"condition":{"test":"datum.value==0.5","value":8},"value":0},"tickSize":-7,"labelPadding":16,"title":"Period (sec)","titlePadding":5}},
  "y":{"field":"sv","type":"quantitative","scale":{"type":"log","domain":[0.001,10],"nice":false},"axis":{"orient":"left","values":[0.001,0.002,0.003,0.004,0.005,0.006,0.007,0.008,0.009,0.01,0.02,0.03,0.04,0.05,0.06,0.07,0.08,0.09,0.1,0.2,0.3,0.4,0.5,0.6,0.7,0.8,0.9,1,2,3,4,5,6,7,8,9,10],"labelExpr":"datum.value==10?'1 ×10¹':datum.value==1?'1 ×10⁰':datum.value==0.1?'1 ×10⁻¹':datum.value==0.01?'1 ×10⁻²':datum.value==0.001?'1 ×10⁻³':''","labelOffset":{"condition":{"test":"datum.value==0.001","value":-10},"value":0},"tickSize":-7,"labelAlign":"left","labelPadding":87,"title":"Sv (kine)","titlePadding":16}},
  "strokeDash":{"field":"comp","type":"nominal","scale":{"domain":["E W","N S"],"range":[[1,0],[6,4]]},"legend":null}}},
 {"transform":[{"filter":"datum.panel==5 && datum.comp=='d'"}],"mark":{"type":"line","strokeWidth":3},
  "encoding":{"x":{"field":"period","type":"quantitative","axis":{"orient":"top","values":[0.5,0.6,0.7,0.8,0.9,1,2,3,4,5,6,7,8,9,10,20,30,40,50],"labels":false,"tickSize":-7,"title":null}},
  "y":{"field":"sv","type":"quantitative","axis":{"orient":"right","values":[0.001,0.002,0.003,0.004,0.005,0.006,0.007,0.008,0.009,0.01,0.02,0.03,0.04,0.05,0.06,0.07,0.08,0.09,0.1,0.2,0.3,0.4,0.5,0.6,0.7,0.8,0.9,1,2,3,4,5,6,7,8,9,10],"labels":false,"tickSize":-7,"title":null}}}},
 {"data":{"values":[{}]},"mark":{"type":"rule","strokeWidth":1.4,"color":"#000"},"encoding":{"x":{"datum":7.5,"type":"quantitative","axis":null},"x2":{"datum":14.9},"y":{"datum":0.0415,"type":"quantitative","axis":null}}},
 {"data":{"values":[{}]},"mark":{"type":"rule","strokeWidth":1.4,"color":"#000","strokeDash":[7,5]},"encoding":{"x":{"datum":7.5,"type":"quantitative","axis":null},"x2":{"datum":14.9},"y":{"datum":0.0185,"type":"quantitative","axis":null}}},
 {"data":{"values":[{}]},"mark":{"type":"text","align":"left","baseline":"middle"},"encoding":{"x":{"datum":16.6,"type":"quantitative","axis":null},"y":{"datum":0.0415,"type":"quantitative","axis":null},"text":{"value":"E W"}}},
 {"data":{"values":[{}]},"mark":{"type":"text","align":"left","baseline":"middle"},"encoding":{"x":{"datum":16.6,"type":"quantitative","axis":null},"y":{"datum":0.0185,"type":"quantitative","axis":null},"text":{"value":"N S"}}},
 {"data":{"values":[{}]},"mark":{"type":"text","align":"left","baseline":"middle"},"encoding":{"x":{"datum":0.59,"type":"quantitative","axis":null},"y":{"datum":1.34,"type":"quantitative","axis":null},"text":{"value":"d = 20km"}}},
 {"data":{"values":[{}]},"mark":{"type":"text","align":"left","baseline":"middle"},"encoding":{"x":{"datum":1.31,"type":"quantitative","axis":null},"y":{"datum":0.059,"type":"quantitative","axis":null},"text":{"value":"h = 5%"}}},
 {"data":{"values":[{}]},"mark":{"type":"text","align":"left","baseline":"middle"},"encoding":{"x":{"datum":0.66,"type":"quantitative","axis":null},"y":{"datum":0.002,"type":"quantitative","axis":null},"text":{"value":"Tottoriken  Engan  EQ(6.2)"}}}
 ]},
{"width":335,"height":344,"title":{"text":["Nihonkai-chubu EQ(M=7.7)","Tsuruga(R=587km)"]},
 "resolve":{"axis":{"x":"independent","y":"independent"}},
 "layer":[
 {"transform":[{"filter":"datum.panel==6 && datum.comp!='d'"}],"mark":{"type":"line","strokeWidth":1.4},
  "encoding":{"x":{"field":"period","type":"quantitative","scale":{"type":"log","domain":[0.5,50],"nice":false},"axis":{"orient":"bottom","values":[0.5,0.6,0.7,0.8,0.9,1,2,3,4,5,6,7,8,9,10,20,30,40,50],"labelExpr":"datum.value==0.5?'0.50':datum.value==1?'1.0':datum.value==2?'2.0':datum.value==5?'5.0':datum.value==10?'10':datum.value==20?'20':datum.value==50?'50':''","labelOffset":{"condition":{"test":"datum.value==0.5","value":8},"value":0},"tickSize":-7,"labelPadding":16,"title":"Period (sec)","titlePadding":5}},
  "y":{"field":"sv","type":"quantitative","scale":{"type":"log","domain":[0.001,10],"nice":false},"axis":{"orient":"left","values":[0.001,0.002,0.003,0.004,0.005,0.006,0.007,0.008,0.009,0.01,0.02,0.03,0.04,0.05,0.06,0.07,0.08,0.09,0.1,0.2,0.3,0.4,0.5,0.6,0.7,0.8,0.9,1,2,3,4,5,6,7,8,9,10],"labelExpr":"datum.value==10?'1 ×10¹':datum.value==1?'1 ×10⁰':datum.value==0.1?'1 ×10⁻¹':datum.value==0.01?'1 ×10⁻²':datum.value==0.001?'1 ×10⁻³':''","labelOffset":{"condition":{"test":"datum.value==0.001","value":-10},"value":0},"tickSize":-7,"labelAlign":"left","labelPadding":87,"title":null}},
  "strokeDash":{"field":"comp","type":"nominal","scale":{"domain":["E W","N S"],"range":[[1,0],[6,4]]},"legend":null}}},
 {"transform":[{"filter":"datum.panel==6 && datum.comp=='d'"}],"mark":{"type":"line","strokeWidth":3},
  "encoding":{"x":{"field":"period","type":"quantitative","axis":{"orient":"top","values":[0.5,0.6,0.7,0.8,0.9,1,2,3,4,5,6,7,8,9,10,20,30,40,50],"labels":false,"tickSize":-7,"title":null}},
  "y":{"field":"sv","type":"quantitative","axis":{"orient":"right","values":[0.001,0.002,0.003,0.004,0.005,0.006,0.007,0.008,0.009,0.01,0.02,0.03,0.04,0.05,0.06,0.07,0.08,0.09,0.1,0.2,0.3,0.4,0.5,0.6,0.7,0.8,0.9,1,2,3,4,5,6,7,8,9,10],"labels":false,"tickSize":-7,"title":null}}}},
 {"data":{"values":[{}]},"mark":{"type":"rule","strokeWidth":1.4,"color":"#000"},"encoding":{"x":{"datum":7.2,"type":"quantitative","axis":null},"x2":{"datum":14.2},"y":{"datum":0.0425,"type":"quantitative","axis":null}}},
 {"data":{"values":[{}]},"mark":{"type":"rule","strokeWidth":1.4,"color":"#000","strokeDash":[7,5]},"encoding":{"x":{"datum":7.2,"type":"quantitative","axis":null},"x2":{"datum":14.2},"y":{"datum":0.0185,"type":"quantitative","axis":null}}},
 {"data":{"values":[{}]},"mark":{"type":"text","align":"left","baseline":"middle"},"encoding":{"x":{"datum":15.8,"type":"quantitative","axis":null},"y":{"datum":0.0425,"type":"quantitative","axis":null},"text":{"value":"E W"}}},
 {"data":{"values":[{}]},"mark":{"type":"text","align":"left","baseline":"middle"},"encoding":{"x":{"datum":15.8,"type":"quantitative","axis":null},"y":{"datum":0.0185,"type":"quantitative","axis":null},"text":{"value":"N S"}}},
 {"data":{"values":[{}]},"mark":{"type":"text","align":"left","baseline":"middle"},"encoding":{"x":{"datum":1.9,"type":"quantitative","axis":null},"y":{"datum":3.65,"type":"quantitative","axis":null},"text":{"value":"d = 10km"}}},
 {"data":{"values":[{}]},"mark":{"type":"text","align":"left","baseline":"middle"},"encoding":{"x":{"datum":1.14,"type":"quantitative","axis":null},"y":{"datum":0.078,"type":"quantitative","axis":null},"text":{"value":"h = 5%"}}},
 {"data":{"values":[{}]},"mark":{"type":"text","align":"left","baseline":"middle"},"encoding":{"x":{"datum":0.677,"type":"quantitative","axis":null},"y":{"datum":0.0021,"type":"quantitative","axis":null},"text":{"value":"Nihonkai  Chubu  EQ(7.7)"}}}
 ]}
],
"config":{
 "font":"Liberation Sans",
 "view":{"stroke":"#000","strokeWidth":1.6},
 "line":{"color":"#000"},
 "text":{"font":"Liberation Sans","fontSize":21,"color":"#111"},
 "axis":{"domain":false,"grid":false,"tickColor":"#000","tickWidth":1.2,"labelFont":"Liberation Sans","labelFontSize":18,"labelColor":"#111","labelOverlap":false,"labelBound":false,"labelFlush":false,"titleFont":"Liberation Sans","titleFontSize":21,"titleFontWeight":"normal","titleColor":"#111"},
 "axisY":{"labelFontSize":19},
 "title":{"font":"DejaVu Serif","fontSize":21.5,"fontWeight":"bold","anchor":"start","frame":"group","color":"#000","offset":6,"lineHeight":32}
}
}
